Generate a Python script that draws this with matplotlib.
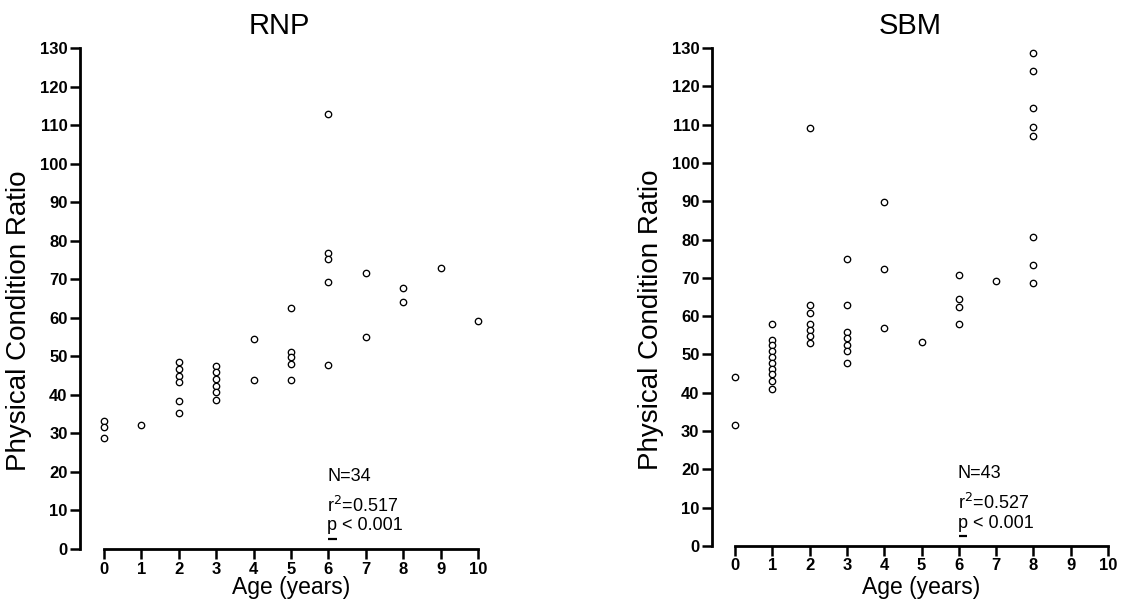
import matplotlib
matplotlib.use("Agg")
import matplotlib.pyplot as plt

# ---- data ----
rnp_age = [0, 0, 0, 1, 2, 2, 2, 2, 2, 2, 3, 3, 3, 3, 3, 3, 4, 4,
           5, 5, 5, 5, 5, 6, 6, 6, 6, 6, 7, 7, 8, 8, 9, 10]
rnp_pcr = [33.3, 31.6, 28.8, 32.3, 48.4, 46.7, 45.0, 43.3, 38.3, 35.4,
           47.5, 45.8, 44.1, 42.4, 40.7, 38.6, 54.5, 43.9,
           62.5, 51.2, 49.7, 47.9, 43.9, 112.9, 76.9, 75.2, 69.3, 47.7,
           71.6, 54.9, 67.6, 64.2, 73.0, 59.2]

sbm_age = [0, 0, 1, 1, 1, 1, 1, 1, 1, 1, 1, 1,
           2, 2, 2, 2, 2, 2, 2, 3, 3, 3, 3, 3, 3, 3,
           4, 4, 4, 5, 6, 6, 6, 6, 7, 8, 8, 8, 8, 8, 8, 8, 8]
sbm_pcr = [44.1, 31.6, 58.0, 53.9, 52.4, 50.9, 49.4, 47.9, 46.3, 44.8, 43.2, 41.0,
           109.2, 62.8, 60.7, 58.0, 56.3, 54.7, 53.1,
           75.0, 63.0, 55.9, 54.3, 52.6, 51.0, 47.8,
           89.8, 72.2, 57.0, 53.2, 70.8, 64.5, 62.3, 58.0, 69.1,
           128.6, 124.0, 114.4, 109.3, 107.1, 80.7, 73.3, 68.7]

titles = ["RNP", "SBM"]
stats = [("N=34", "0.517", "0.001"), ("N=43", "0.527", "0.001")]
xticks = list(range(0, 11))
yticks = list(range(0, 131, 10))

W, H = 1122, 600
plt.rcParams['font.family'] = ['Liberation Sans', 'DejaVu Sans']
fig = plt.figure(figsize=(W / 100, H / 100), dpi=100)

# axes placement in pixels: (left, bottom, right, top) measured from top-left
boxes = [(80, 549, 478, 48), (712, 546, 1108, 48)]
x0px = [104, 735]
ylab_px = [19, 651]
xlab_base_px = 594

for i, (ages, vals) in enumerate([(rnp_age, rnp_pcr), (sbm_age, sbm_pcr)]):
    l, b, r, t = boxes[i]
    ax = fig.add_axes([l / W, 1 - b / H, (r - l) / W, (b - t) / H])
    ppu = (r - x0px[i]) / 10.0
    xmin = -(x0px[i] - l) / ppu
    ax.set_xlim(xmin, 10)
    ax.set_ylim(0, 130)
    ax.plot(ages, vals, linestyle="none", marker="o", markersize=4.6,
            markerfacecolor="white", markeredgecolor="black",
            markeredgewidth=0.95, clip_on=False)
    for s in ["top", "right"]:
        ax.spines[s].set_visible(False)
    ax.spines["bottom"].set_bounds(0, 10)
    ax.spines["left"].set_bounds(0, 130)
    for s in ["bottom", "left"]:
        ax.spines[s].set_linewidth(2.0)
    ax.set_xticks(xticks)
    ax.set_yticks(yticks)
    ax.tick_params(axis="both", direction="out", length=7, width=1.8,
                   labelsize=12, pad=2)
    for lab in ax.get_xticklabels() + ax.get_yticklabels():
        lab.set_fontweight("bold")
    ax.set_xlabel("Age (years)", fontsize=16.5)
    ax.xaxis.label.set_va("baseline")
    ax.xaxis.set_label_coords((0.5 * (x0px[i] + r) - l) / (r - l),
                              (b - xlab_base_px) / (b - t))
    ax.set_ylabel("Physical Condition Ratio", fontsize=20)
    ax.yaxis.label.set_va("center")
    ax.yaxis.set_label_coords((ylab_px[i] - l) / (r - l), 0.455)
    ax.set_title(titles[i], fontsize=21, pad=10)
    n, r2, p = stats[i]
    tx = 5.97
    ax.text(tx, 18.9, n, fontsize=13, ha="left", va="center")
    ax.text(tx, 11.2, "r$^{2}$=" + r2, fontsize=13, ha="left", va="center")
    ax.text(tx, 6.0, "p < " + p, fontsize=13, ha="left", va="center")
    ax.plot([tx + 0.03, tx + 0.25], [2.6, 2.6], color="black", lw=1.6,
            solid_capstyle="butt")

fig.savefig("out.png", dpi=100)
